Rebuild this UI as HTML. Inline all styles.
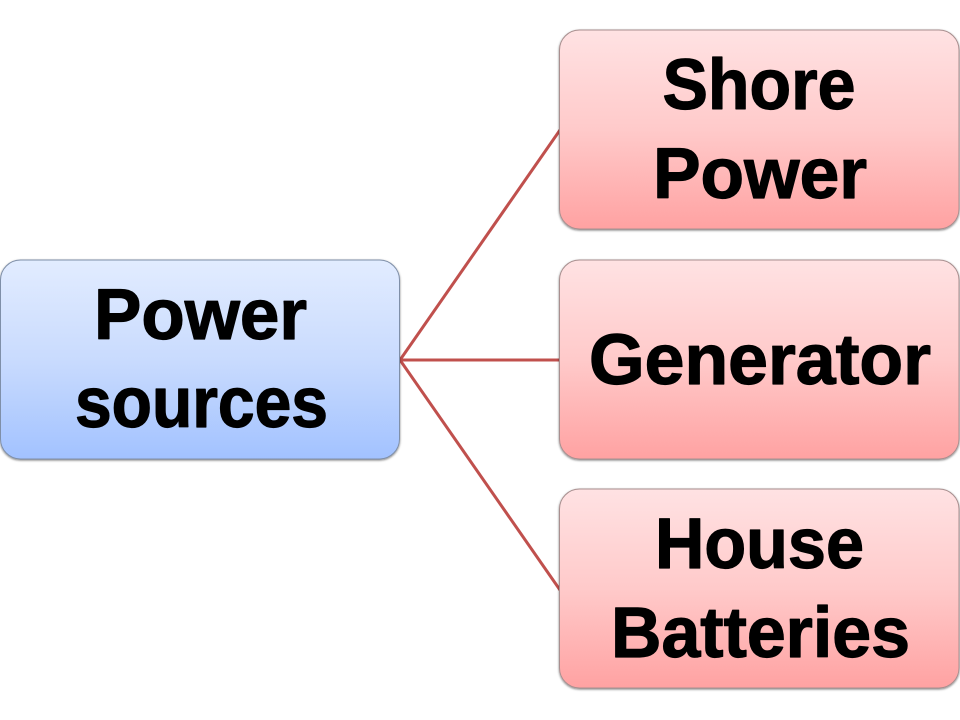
<!DOCTYPE html>
<html>
<head>
<meta charset="utf-8">
<style>
html,body{margin:0;padding:0;background:#fff;width:960px;height:720px;overflow:hidden}
svg{display:block}
text{font-family:"Liberation Sans",sans-serif;font-weight:bold;font-size:71px;fill:#000;stroke:#000;stroke-width:1.2px;stroke-linejoin:round}
</style>
</head>
<body>
<svg width="960" height="720" viewBox="0 0 960 720" xmlns="http://www.w3.org/2000/svg">
<defs>
<linearGradient id="b" x1="0" y1="0" x2="0" y2="1">
<stop offset="0" stop-color="#e2ecff"/><stop offset=".5" stop-color="#c9dbfe"/><stop offset="1" stop-color="#a2c2ff"/>
</linearGradient>
<linearGradient id="r" x1="0" y1="0" x2="0" y2="1">
<stop offset="0" stop-color="#ffe2e3"/><stop offset=".5" stop-color="#ffcaca"/><stop offset="1" stop-color="#ffa2a2"/>
</linearGradient>
<filter id="s" x="-5%" y="-5%" width="110%" height="112%">
<feDropShadow dx="0" dy="1" stdDeviation="1" flood-color="#000" flood-opacity=".5"/>
</filter>
</defs>
<g stroke="#c0504d" stroke-width="3" fill="none">
<line x1="400" y1="360" x2="560" y2="130"/>
<line x1="400" y1="360" x2="560" y2="360"/>
<line x1="400" y1="360" x2="560" y2="590"/>
</g>
<g filter="url(#s)" stroke-width="1">
<rect x="0.5" y="260" width="399" height="199" rx="20" fill="url(#b)" stroke="#7f8fa8"/>
<rect x="559.5" y="30" width="399.500" height="199" rx="20" fill="url(#r)" stroke="#a88f8f"/>
<rect x="559.500" y="260" width="399.500" height="199" rx="20" fill="url(#r)" stroke="#a88f8f"/>
<rect x="559.500" y="489" width="399.500" height="199" rx="20" fill="url(#r)" stroke="#a88f8f"/>
</g>
<text x="94" y="339" textLength="213" lengthAdjust="spacingAndGlyphs">Power</text>
<text x="75" y="427" textLength="253" lengthAdjust="spacingAndGlyphs">sources</text>
<text x="662.500" y="109" textLength="193" lengthAdjust="spacingAndGlyphs">Shore</text>
<text x="653" y="198" textLength="214" lengthAdjust="spacingAndGlyphs">Power</text>
<text x="589" y="384" textLength="342" lengthAdjust="spacingAndGlyphs">Generator</text>
<text x="655" y="568" textLength="209" lengthAdjust="spacingAndGlyphs">House</text>
<text x="611" y="657" textLength="299" lengthAdjust="spacingAndGlyphs">Batteries</text>
</svg>
</body>
</html>
